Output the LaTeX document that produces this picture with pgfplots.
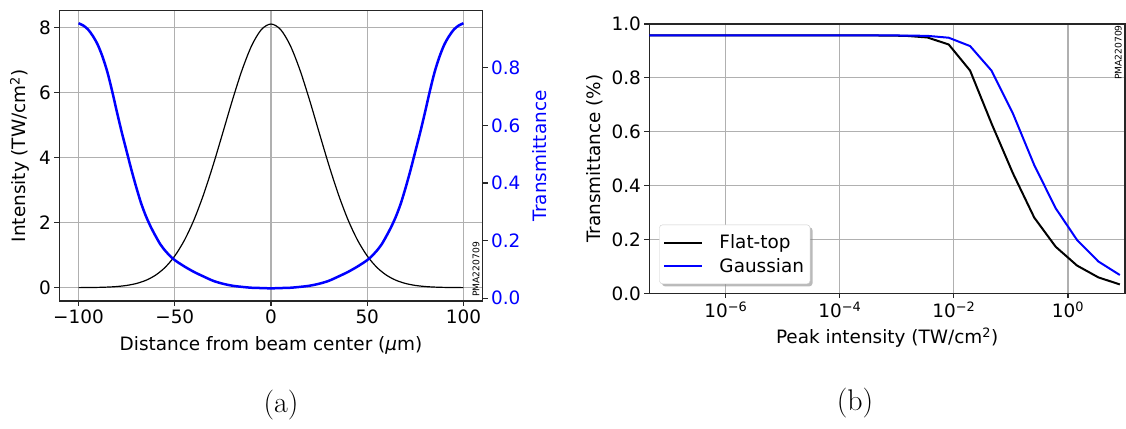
\documentclass[border=0pt]{standalone}
\usepackage{fontspec}
\usepackage{pgfplots}
\usepackage{pgfplotstable}
\pgfplotsset{compat=1.18}
\usetikzlibrary{shadows}
\newfontfamily\djv{DejaVu Sans}
\newcommand\mplfont{\djv\fontsize{18.5}{22}\selectfont}

\makeatletter
% keep the legend frame's shadow off the sample lines
\tikzset{no preactions/.code={\let\tikz@preactions\pgfutil@empty}}
\makeatother

\definecolor{gridgray}{HTML}{B0B0B0}
\definecolor{spine}{HTML}{262626}

% Intensity profile of the Gaussian beam (TW/cm^2)
\pgfplotstableread{
x I
-100 0.0017
-95 0.0039
-90 0.0085
-85 0.0178
-80 0.0358
-75 0.069
-70 0.128
-65 0.226
-60 0.384
-55 0.625
-50 0.975
-45 1.458
-40 2.090
-35 2.872
-30 3.783
-25 4.775
-20 5.778
-15 6.702
-10 7.451
-5 7.940
0 8.110
5 7.940
10 7.451
15 6.702
20 5.778
25 4.775
30 3.783
35 2.872
40 2.090
45 1.458
50 0.975
55 0.625
60 0.384
65 0.226
70 0.128
75 0.069
80 0.0358
85 0.0178
90 0.0085
95 0.0039
100 0.0017
}\profile

% Local transmittance across the beam
\pgfplotstableread{
x T
-100 0.955
-97.5 0.947
-95 0.933
-92.5 0.910
-90 0.880
-87.5 0.838
-85 0.785
-82.5 0.718
-80 0.645
-77.5 0.575
-75 0.510
-72.5 0.445
-70 0.385
-67.5 0.330
-65 0.285
-62.5 0.248
-60 0.216
-57.5 0.187
-55 0.165
-52.5 0.147
-50 0.132
-45 0.110
-40 0.091
-35 0.075
-30 0.060
-25 0.050
-20 0.043
-15 0.039
-10 0.036
-5 0.035
0 0.034
5 0.035
10 0.036
15 0.039
20 0.043
25 0.050
30 0.060
35 0.075
40 0.091
45 0.110
50 0.132
52.5 0.147
55 0.165
57.5 0.187
60 0.216
62.5 0.248
65 0.285
67.5 0.330
70 0.385
72.5 0.445
75 0.510
77.5 0.575
80 0.645
82.5 0.718
85 0.785
87.5 0.838
90 0.880
92.5 0.910
95 0.933
97.5 0.947
100 0.955
}\trans

% Transmittance versus peak intensity
\pgfplotstableread{
x flat gauss
4.56e-8 0.958 0.958
1.081e-7 0.958 0.958
2.564e-7 0.958 0.958
6.08e-7 0.958 0.958
1.442e-6 0.958 0.958
3.42e-6 0.958 0.958
8.11e-6 0.958 0.958
1.923e-5 0.958 0.958
4.56e-5 0.958 0.958
1.081e-4 0.958 0.958
2.564e-4 0.958 0.958
6.08e-4 0.957 0.958
1.442e-3 0.956 0.957
3.42e-3 0.950 0.956
8.11e-3 0.924 0.949
1.923e-2 0.827 0.918
4.56e-2 0.631 0.827
0.1081 0.446 0.668
0.2564 0.281 0.476
0.608 0.173 0.316
1.442 0.103 0.198
3.42 0.059 0.118
8.11 0.033 0.068
}\curves

\pgfplotsset{
  mpl/.style={
    scale only axis,
    anchor=south west,
    font=\mplfont,
    tick label style={font=\mplfont},
    label style={font=\mplfont},
    axis line style={spine, line width=1.1bp},
    tick style={spine, line width=1.1bp},
    major tick length=4.9bp,
    tick align=outside,
    grid style={gridgray, line width=1.1bp},
    /pgf/number format/assume math mode=true,
  },
}

\begin{document}
\begin{tikzpicture}
\path[use as bounding box] (0,0) rectangle (1126bp,429bp);

% (a) beam profile and transmittance
\begin{axis}[mpl,
  at={(59.3bp,128bp)}, width=423.4bp, height=290.3bp,
  xmin=-110, xmax=110, ymin=-0.41, ymax=8.52,
  xtick={-100,-50,0,50,100},
  xticklabels={−100,−50,0,50,100},
  ytick={0,2,4,6,8},
  xtick pos=bottom, ytick pos=left,
  grid=major,
  xlabel={Distance from beam center ({\itshape μ}m)},
  ylabel={Intensity (TW/cm\textsuperscript{2})},
  every axis x label/.style={at={(axis description cs:0.5,-0.152)}, anchor=center, font=\mplfont},
  every axis y label/.style={at={(axis description cs:-0.093,0.5)}, rotate=90, anchor=center, font=\mplfont},
]
\addplot[black, line width=1.2bp, smooth] table[x=x, y=I] {\profile};
\node[rotate=90, anchor=south west, inner sep=0pt, font=\djv\fontsize{9.2}{11}\selectfont]
  at ([xshift=-3bp, yshift=4bp]rel axis cs:1,0) {PMA220709};
\end{axis}

\begin{axis}[mpl,
  at={(59.3bp,128bp)}, width=423.4bp, height=290.3bp,
  xmin=-110, xmax=110, ymin=-0.0100, ymax=0.9986,
  axis x line=none, axis y line*=right,
  ytick={0,0.2,0.4,0.6,0.8},
  yticklabel style={text=blue, /pgf/number format/.cd, fixed, fixed zerofill, precision=1},
  ylabel={Transmittance},
  every axis y label/.style={at={(axis description cs:1.135,0.5)}, rotate=90, anchor=center, text=blue, font=\mplfont},
]
\addplot[blue, line width=2.5bp, smooth] table[x=x, y=T] {\trans};
\end{axis}

% (b) transmittance versus peak intensity
\begin{axis}[mpl,
  at={(649.3bp,135.7bp)}, width=475.7bp, height=269.3bp,
  xmode=log, xmin=4.56e-8, xmax=10, ymin=0, ymax=1,
  xtick={1e-6,1e-4,1e-2,1},
  xticklabels={10\textsuperscript{−6},10\textsuperscript{−4},10\textsuperscript{−2},10\textsuperscript{0}},
  xminorticks=false,
  ytick={0,0.2,0.4,0.6,0.8,1},
  yticklabel style={/pgf/number format/.cd, fixed, fixed zerofill, precision=1},
  xtick pos=bottom, ytick pos=left,
  grid=major,
  xlabel={Peak intensity (TW/cm\textsuperscript{2})},
  ylabel={Transmittance (\%)},
  every axis x label/.style={at={(axis description cs:0.5,-0.166)}, anchor=center, font=\mplfont},
  every axis y label/.style={at={(axis description cs:-0.114,0.5)}, rotate=90, anchor=center, font=\mplfont},
  legend cell align=left,
  legend image code/.code={\path[no preactions, draw=none] (0bp,-3.5bp) -- (38bp,-3.5bp); \draw[no preactions, #1] (0bp,0bp) -- (38bp,0bp);},
  legend style={at={(axis description cs:0.021,0.0345)}, anchor=south west,
    draw=black!20, fill=white, rounded corners=3bp,
    drop shadow={shadow xshift=2.5bp, shadow yshift=-2.5bp, fill=black!45, opacity=0.6},
    inner xsep=4bp, inner ysep=8bp, row sep=4bp,
    font=\mplfont},
  /tikz/every odd column/.append style={column sep=14bp},
  /tikz/every even column/.append style={column sep=4bp},
]
\addplot[black, line width=2bp] table[x=x, y=flat] {\curves};
\addlegendentry{Flat-top}
\addplot[blue, line width=2bp] table[x=x, y=gauss] {\curves};
\addlegendentry{Gaussian}
\node[rotate=90, anchor=south east, inner sep=0pt, font=\djv\fontsize{9.2}{11}\selectfont]
  at ([xshift=-3bp, yshift=-1bp]rel axis cs:1,1) {PMA220709};
\end{axis}

\node[font=\fontsize{30}{34}\selectfont] at (281bp,24bp) {(a)};
\node[font=\fontsize{30}{34}\selectfont] at (855bp,26bp) {(b)};
\end{tikzpicture}
\end{document}
